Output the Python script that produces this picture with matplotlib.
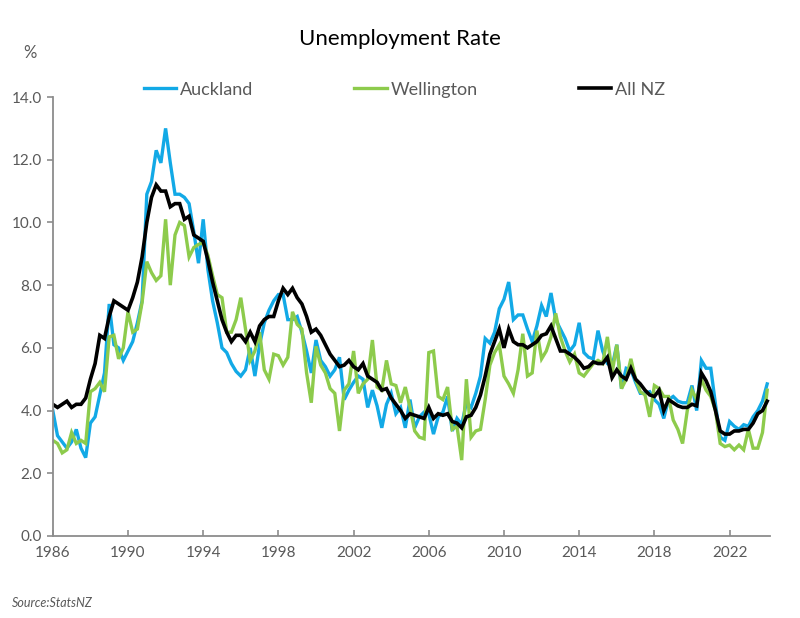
import numpy as np
import matplotlib
matplotlib.use("Agg")
import matplotlib.pyplot as plt

start_year = 1986.0
auckland = [
    4.0, 3.2, 3.0, 2.8,  3.0, 3.4, 2.8, 2.5,  3.6, 3.8, 4.5, 5.2,
    7.4, 6.1, 6.0, 5.6,  5.9, 6.2, 6.8, 7.5,  10.9, 11.3, 12.3, 11.9,
    13.0, 11.9, 10.9, 10.9,  10.8, 10.6, 9.7, 8.7,  10.1, 8.5, 7.5, 6.8,
    6.0, 5.85, 5.5, 5.25,  5.1, 5.3, 6.0, 5.1,  6.1, 6.8, 7.2, 7.5,
    7.7, 7.7, 6.9, 6.9,  7.0, 6.5, 5.9, 5.2,  6.25, 5.6, 5.4, 5.1,
    5.3, 5.7, 4.35, 4.65,  4.9, 5.1, 5.0, 4.1,  4.65, 4.15, 3.45, 4.2,
    4.55, 3.9, 4.1, 3.45,  4.35, 3.45, 3.8, 3.95,  3.9, 3.25, 3.8, 3.95,
    4.45, 3.35, 3.75, 3.55,  4.25, 4.1, 4.55, 5.1,  6.3, 6.15, 6.5, 7.25,
    7.55, 8.1, 6.9, 7.05,  7.05, 6.6, 6.2, 6.7,  7.35, 7.0, 7.75, 6.9,
    6.6, 6.3, 5.9, 6.1,  6.8, 5.85, 5.7, 5.65,  6.55, 5.9, 5.5, 5.4,
    6.1, 4.7, 5.35, 5.3,  4.9, 4.55, 4.55, 4.6,  4.35, 4.2, 3.75, 4.35,
    4.45, 4.3, 4.25, 4.25,  4.8, 4.0, 5.6, 5.35,  5.35, 4.2, 3.15, 3.05,
    3.65, 3.5, 3.4, 3.55,  3.5, 3.8, 4.0, 4.3, 4.85,
]
wellington = [
    3.05, 2.95, 2.65, 2.75,  3.3, 2.95, 3.05, 2.95,  4.6, 4.7, 4.9, 4.6,
    6.35, 6.4, 5.65, 6.0,  7.15, 6.5, 6.6, 7.45,  8.75, 8.4, 8.15, 8.3,
    10.1, 8.0, 9.6, 10.0,  9.9, 8.9, 9.2, 9.3,  9.35, 8.95, 8.3, 7.7,
    7.6, 6.5, 6.5, 6.9,  7.6, 6.6, 5.6, 5.9,  6.5, 5.3, 5.0, 5.8,
    5.75, 5.45, 5.7, 7.15,  6.75, 6.6, 5.2, 4.25,  6.05, 5.45, 5.2, 4.7,
    4.55, 3.35, 4.65, 4.85,  5.9, 4.55, 4.85, 5.0,  6.25, 4.75, 4.65, 5.6,
    4.85, 4.8, 4.25, 4.75,  4.1, 3.35, 3.15, 3.1,  5.85, 5.9, 4.45, 4.35,
    4.75, 3.4, 3.5, 2.42,  5.0, 3.15, 3.35, 3.4,  4.35, 5.45, 5.85, 6.1,
    5.1, 4.85, 4.55, 5.3,  6.45, 5.1, 5.2, 6.55,  5.65, 5.9, 6.35, 7.1,
    6.35, 5.9, 5.55, 5.8,  5.2, 5.1, 5.3, 5.5,  5.6, 5.5, 6.35, 5.2,
    6.1, 4.7, 5.0, 5.65,  5.0, 4.6, 4.5, 3.8,  4.8, 4.7, 4.45, 4.45,
    3.7, 3.4, 2.95, 4.0,  4.65, 4.35, 5.0, 4.65,  4.45, 4.0, 2.95, 2.85,
    2.9, 2.75, 2.9, 2.75,  3.4, 2.8, 2.8, 3.3, 4.65,
]
all_nz = [
    4.2, 4.1, 4.2, 4.3,  4.1, 4.2, 4.2, 4.4,  5.0, 5.5, 6.4, 6.3,
    7.0, 7.5, 7.4, 7.3,  7.2, 7.6, 8.1, 8.9,  10.0, 10.8, 11.2, 11.0,
    11.0, 10.5, 10.6, 10.6,  10.1, 10.2, 9.6, 9.5,  9.4, 8.8, 8.1, 7.5,
    6.9, 6.5, 6.2, 6.4,  6.4, 6.2, 6.5, 6.2,  6.7, 6.9, 7.0, 7.0,
    7.5, 7.9, 7.7, 7.9,  7.6, 7.4, 7.0, 6.5,  6.6, 6.4, 6.1, 5.8,
    5.6, 5.4, 5.45, 5.6,  5.4, 5.3, 5.5, 5.1,  5.0, 4.9, 4.65, 4.7,
    4.4, 4.2, 4.0, 3.75,  3.9, 3.85, 3.8, 3.75,  4.1, 3.75, 3.9, 3.85,
    3.9, 3.65, 3.6, 3.45,  3.8, 3.85, 4.1, 4.5,  5.1, 5.8, 6.2, 6.6,
    6.0, 6.6, 6.2, 6.1,  6.1, 6.0, 6.1, 6.2,  6.4, 6.45, 6.7, 6.3,
    5.9, 5.9, 5.8, 5.7,  5.55, 5.35, 5.4, 5.55,  5.5, 5.5, 5.7, 5.05,
    5.3, 5.1, 5.0, 5.35,  5.0, 4.85, 4.65, 4.5,  4.45, 4.65, 4.0, 4.35,
    4.25, 4.15, 4.1, 4.1,  4.2, 4.15, 5.2, 4.95,  4.6, 4.0, 3.35, 3.25,
    3.25, 3.35, 3.35, 3.4,  3.4, 3.6, 3.9, 4.0, 4.3,
]
x_ticks = [1986, 1990, 1994, 1998, 2002, 2006, 2010, 2014, 2018, 2022]
y_ticks = [0.0, 2.0, 4.0, 6.0, 8.0, 10.0, 12.0, 14.0]

t = start_year + np.arange(len(all_nz)) * 0.25

plt.rcParams['font.family'] = ['Lato', 'DejaVu Sans']
fig = plt.figure(figsize=(8, 6.18), dpi=100)
ax = fig.add_axes([0.066, 0.1327, 0.8965, 0.7103])

ax.plot(t, auckland, color='#12A9E6', lw=2.4, label='Auckland', solid_joinstyle='miter')
ax.plot(t, wellington, color='#8DCB4C', lw=2.4, label='Wellington', solid_joinstyle='miter')
ax.plot(t, all_nz, color='black', lw=2.6, label='All NZ', solid_joinstyle='miter')

ax.set_xlim(1986, 2024.15)
ax.set_ylim(0, 14)
ax.set_xticks(x_ticks)
ax.set_xticklabels([str(v) for v in x_ticks])
ax.set_yticks(y_ticks)
ax.set_yticklabels([f"{v:.1f}" for v in y_ticks])
for s in ['top', 'right']:
    ax.spines[s].set_visible(False)
for s in ['left', 'bottom']:
    ax.spines[s].set_color('#8c8c8c')
    ax.spines[s].set_linewidth(1.3)
ax.tick_params(axis='both', colors='#8c8c8c', labelcolor='#595959', labelsize=11, length=4, width=1.2)
ax.tick_params(axis='x', direction='in', pad=7)
ax.tick_params(axis='y', direction='out', pad=4)

fig.text(0.5, 0.937, 'Unemployment Rate', ha='center', va='center', fontsize=16, color='black')
fig.text(0.038, 0.915, '%', ha='center', va='center', fontsize=12, color='#595959')
fig.text(0.015, 0.024, 'Source:StatsNZ', ha='left', va='center', fontsize=9, style='italic', color='#595959')

leg = ax.legend(loc='center', bbox_to_anchor=(0.49, 1.017), ncol=3, frameon=False,
                fontsize=13, handlelength=1.8, handletextpad=0.2, columnspacing=5.6,
                borderaxespad=0)
for txt in leg.get_texts():
    txt.set_color('#595959')

fig.savefig('out.png', dpi=100)
